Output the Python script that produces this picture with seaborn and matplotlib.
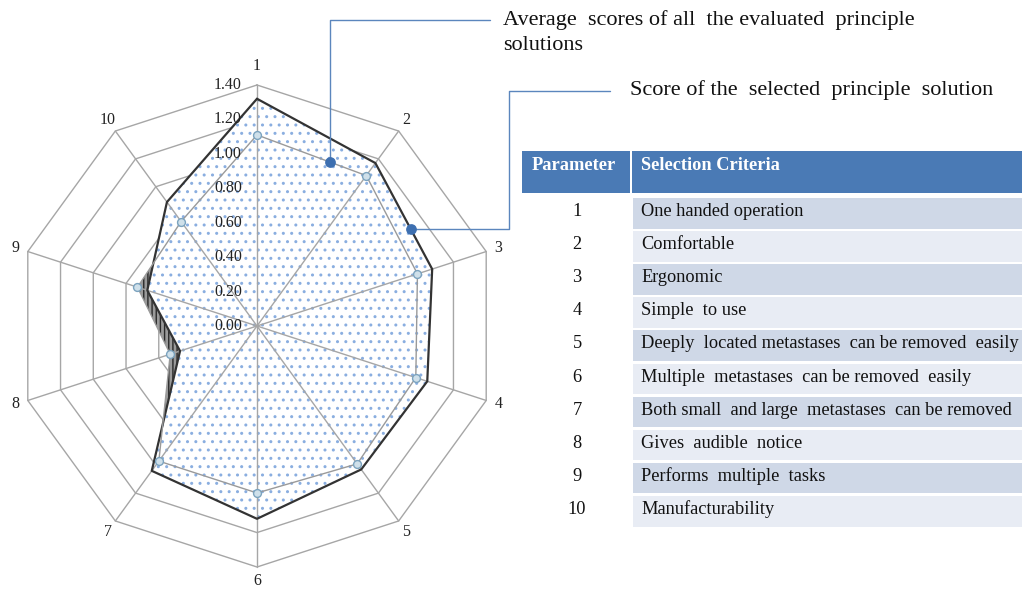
import numpy as np
import matplotlib.pyplot as plt
import matplotlib.transforms as mtransforms
import seaborn as sns

# Chart data
parameters = ["1", "2", "3", "4", "5", "6", "7", "8", "9", "10"]
selected_score = [1.32, 1.17, 1.07, 1.04, 1.03, 1.12, 1.04, 0.47, 0.67, 0.89]
average_score = [1.11, 1.08, 0.98, 0.97, 0.99, 0.97, 0.97, 0.53, 0.73, 0.75]
ring_ticks = [0.00, 0.20, 0.40, 0.60, 0.80, 1.00, 1.20, 1.40]
criteria = [
    "One handed operation",
    "Comfortable",
    "Ergonomic",
    "Simple  to use",
    "Deeply  located metastases  can be removed  easily",
    "Multiple  metastases  can be removed  easily",
    "Both small  and large  metastases  can be removed",
    "Gives  audible  notice",
    "Performs  multiple  tasks",
    "Manufacturability",
]

sns.set_style("white")
plt.rcParams["font.family"] = ["Liberation Serif", "DejaVu Serif"]

W, H = 1022, 591
fig = plt.figure(figsize=(W / 100, H / 100), dpi=100)

# Radar axes: centre at (257, 326) px, radius 241 px for 1.40
cx, cy, rad = 257, 326, 241
ax = fig.add_axes([(cx - rad) / W, (H - cy - rad) / H, 2 * rad / W, 2 * rad / H],
                  projection="polar")
ax.set_theta_zero_location("N")
ax.set_theta_direction(-1)
ax.set_ylim(0, ring_ticks[-1])
ax.axis("off")

angles = np.arange(len(parameters)) * 2 * np.pi / len(parameters)
ang_c = np.append(angles, angles[0])
sel_c = np.append(selected_score, selected_score[0])
avg_c = np.append(average_score, average_score[0])

grid_col = "#a6a6a6"
# decagon rings
for t in ring_ticks[1:]:
    ax.plot(ang_c, [t] * len(ang_c), color=grid_col, lw=1, zorder=1, clip_on=False)

# fills: average series (dark hatch) under the selected series (dotted)
ax.fill(ang_c, avg_c, facecolor="#9a9a9a", edgecolor="#2a2a2a", hatch="||||",
        lw=0, zorder=2)
ax.fill(ang_c, sel_c, facecolor="white", edgecolor="#8aaee0", hatch="..",
        lw=0, zorder=3)

# spokes
for a in angles:
    ax.plot([a, a], [0, ring_ticks[-1]], color=grid_col, lw=1, zorder=4, clip_on=False)

# series lines
sns.lineplot(x=ang_c, y=sel_c, sort=False, estimator=None, color="#333333", lw=1.6,
             zorder=5, ax=ax, clip_on=False)
sns.lineplot(x=ang_c, y=avg_c, sort=False, estimator=None, color="#9a9a9a", lw=1,
             zorder=6, ax=ax)
sns.scatterplot(x=angles, y=average_score, s=32, color="#cfe0ea", edgecolor="#7ba3bf",
                linewidth=1, zorder=7, ax=ax)
ax.set_xlabel("")
ax.set_ylabel("")

# radial tick labels along axis 1
off = mtransforms.offset_copy(ax.transData, fig=fig, x=-15, y=0, units="dots")
for t in ring_ticks:
    ax.text(0, t, f"{t:.2f}", transform=off, ha="right", va="center",
            fontsize=11.5, color="#222222", zorder=8)

# parameter numbers around the chart
for a, p in zip(angles, parameters):
    c = np.cos(a)
    dy = 6 * max(c, 0) ** 9 - 1 * max(-c, 0) ** 9
    lab = mtransforms.offset_copy(ax.transData, fig=fig, x=0, y=dy, units="dots")
    ax.text(a, 1.475, p, transform=lab, ha="center", va="center", fontsize=11.5,
            color="#222222")

# overlay in pixel coordinates for callouts and table
ov = fig.add_axes([0, 0, 1, 1])
ov.set_xlim(0, W)
ov.set_ylim(H, 0)
ov.axis("off")


def edge_point(values, i, frac):
    p0 = ax.transData.transform((angles[i], values[i]))
    j = (i + 1) % len(values)
    p1 = ax.transData.transform((angles[j], values[j]))
    return ov.transData.inverted().transform(p0 + frac * (p1 - p0))


blue = "#3d6fb0"
line_blue = "#5b86bd"
txt_kw = dict(fontsize=16, va="center", ha="left", color="#111111")

# callout: average scores
x0, y0 = edge_point(average_score, 0, 0.67)
ov.plot([x0, x0, 490], [y0, 20, 20], color=line_blue, lw=1)
ov.scatter([x0], [y0], s=45, color=blue, zorder=5)
ov.text(503, 20, "Average  scores of all  the evaluated  principle", **txt_kw)
ov.text(503, 46, "solutions", **txt_kw)

# callout: selected solution
x1, y1 = edge_point(selected_score, 1, 0.62)
ov.plot([x1, 509, 509, 610], [y1, y1, 91, 91], color=line_blue, lw=1)
ov.scatter([x1], [y1], s=45, color=blue, zorder=5)
ov.text(630, 90, "Score of the  selected  principle  solution", **txt_kw)

# table
head_col = "#4a7ab5"
ov.add_patch(plt.Rectangle((522, 151), 108, 42, color=head_col, lw=0))
ov.add_patch(plt.Rectangle((632, 151), W - 632, 42, color=head_col, lw=0))
ov.text(532, 166, "Parameter", color="white", fontweight="bold", fontsize=13.2,
        va="center", ha="left")
ov.text(641, 166, "Selection Criteria", color="white", fontweight="bold",
        fontsize=13.2, va="center", ha="left")
row_h = 33.1
for i, (p, c) in enumerate(zip(parameters, criteria)):
    top = 197 + i * row_h
    shade = "#cfd8e7" if i % 2 == 0 else "#e8ecf4"
    ov.add_patch(plt.Rectangle((633, top + 1), W - 633, row_h - 2.5, color=shade, lw=0))
    ov.text(577, top + row_h / 2 - 2, p, ha="center", va="center", fontsize=13.2,
            color="#111111")
    ov.text(641, top + row_h / 2 - 2, c, ha="left", va="center", fontsize=13.2,
            color="#111111")

fig.savefig("out.png", dpi=100)
